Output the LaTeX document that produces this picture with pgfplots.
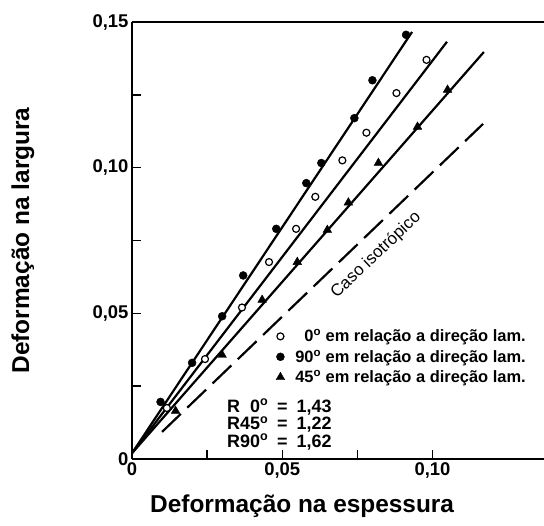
\documentclass[border=0pt]{standalone}
\usepackage{fontspec}
\setmainfont{Liberation Sans}
\usepackage{pgfplots}
\pgfplotsset{compat=1.18}

\begin{document}
\begin{tikzpicture}
\path[use as bounding box] (0,0) rectangle (544bp,526bp);
\begin{axis}[
  at={(132bp,67bp)}, anchor=south west,
  scale only axis, width=412bp, height=437bp,
  xmin=0, xmax=0.1371, ymin=0, ymax=0.15,
  axis x line*=box, axis y line*=left,
  axis line style={line width=1.8bp},
  xtick={0,0.05,0.10}, xticklabels={0,{0,05},{0,10}},
  minor xtick={0.025,0.075},
  ytick={0,0.05,0.10,0.15}, yticklabels={0,{0,05},{0,10},{0,15}},
  minor ytick={0.025,0.075,0.125},
  xtick pos=bottom, ytick pos=left,
  tick align=inside,
  major tick length=9bp, minor tick length=9bp,
  every tick/.style={line width=1.5bp, black},
  every minor tick/.style={line width=1.5bp, black},
  ticklabel style={font=\fontsize{18.5}{18.5}\selectfont\bfseries},
  xlabel={Deformação na espessura},
  ylabel={Deformação na largura},
  xlabel style={at={(axis description cs:0.413,-0.107)}, anchor=center,
    font=\fontsize{24.5}{24.5}\selectfont\bfseries},
  ylabel style={at={(axis description cs:-0.265,0.5)}, anchor=center,
    font=\fontsize{24.5}{24.5}\selectfont\bfseries},
  legend style={at={(axis description cs:0.342,0.305)}, anchor=north west,
    draw=none, fill=none, row sep=3.5bp, column sep=9bp,
    font=\fontsize{16.5}{17}\selectfont\bfseries,
    nodes={inner sep=1.5bp}},
  legend cell align=left,
  clip=false,
]
% fitted lines, one per direction
\addplot[forget plot, black, line width=2.2bp] coordinates {(0,0.002) (0.0932,0.1466)};
\addplot[forget plot, black, line width=2.2bp] coordinates {(0,0.002) (0.1048,0.1432)};
\addplot[forget plot, black, line width=2.2bp] coordinates {(0,0.002) (0.1171,0.1397)};
% isotropic reference
\addplot[forget plot, black, line width=2.2bp, dash pattern=on 26bp off 9bp]
  coordinates {(0.010,0.0093) (0.1168,0.115)};

% 0 degrees
\addplot[only marks, mark=*, mark size=3.5bp, mark options={fill=white, draw=black, line width=1.2bp}]
  coordinates {(0.0116,0.0175) (0.0243,0.0343) (0.0366,0.052) (0.0456,0.0676)
    (0.0546,0.079) (0.061,0.090) (0.070,0.1025) (0.078,0.112) (0.088,0.1256) (0.098,0.137)};
\addlegendentry{\hphantom{9}0\textsuperscript{o} em relação a direção lam.}
% 90 degrees
\addplot[only marks, mark=*, mark size=4bp, black]
  coordinates {(0.0095,0.0196) (0.020,0.033) (0.030,0.049) (0.037,0.063) (0.048,0.079)
    (0.058,0.0947) (0.063,0.1016) (0.074,0.117) (0.080,0.130) (0.0912,0.1456)};
\addlegendentry{90\textsuperscript{o} em relação a direção lam.}
% 45 degrees
\addplot[only marks, mark=triangle*, mark size=5bp, black]
  coordinates {(0.0145,0.0165) (0.030,0.0357) (0.0433,0.0546) (0.055,0.0676)
    (0.065,0.0786) (0.072,0.088) (0.082,0.1016) (0.095,0.114) (0.105,0.1267)};
\addlegendentry{45\textsuperscript{o} em relação a direção lam.}

\node[rotate=43.5, font=\fontsize{17}{17}\selectfont] at (axis cs:0.0812,0.0700) {Caso isotrópico};
\node[anchor=north west, align=left, inner sep=0pt,
  font=\fontsize{18}{17.5}\selectfont\bfseries] at (axis cs:0.0316,0.0206)
  {R\hphantom{4}0\textsuperscript{o}\hspace{0.5em}=\hspace{0.5em}1,43\\
   R45\textsuperscript{o}\hspace{0.5em}=\hspace{0.5em}1,22\\
   R90\textsuperscript{o}\hspace{0.5em}=\hspace{0.5em}1,62};
\end{axis}
\end{tikzpicture}
\end{document}
